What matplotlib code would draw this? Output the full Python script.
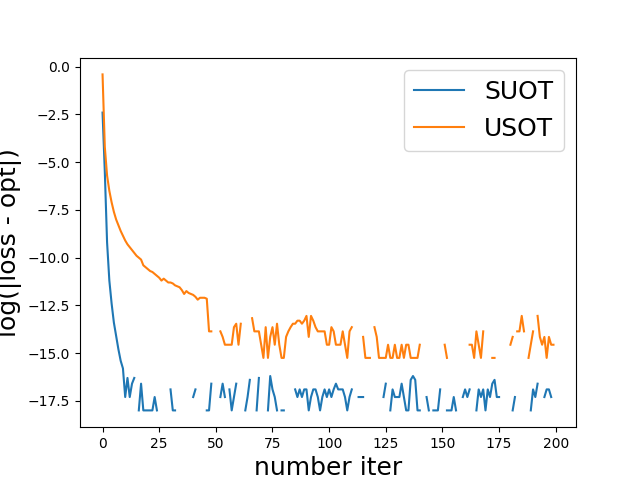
import numpy as np
import matplotlib
matplotlib.use("Agg")
import matplotlib.pyplot as plt

nan = np.nan

# log(|loss - opt|) per iteration (nan = exact zero, not drawn)
suot = [
    -2.4, -5.5, -9.2, -11.2, -12.4, -13.4, -14.1, -14.8, -15.4, -15.8,
    -17.3, -16.3, -17.3, -16.6, -16.3, nan, -18.0, -16.6, -18.0, -18.0,
    -18.0, -18.0, -18.0, -17.3, -18.0, nan, nan, nan, nan, nan,
    -16.9, -18.0, -18.0, nan, nan, nan, nan, nan, nan, nan,
    -17.3, -16.9, nan, nan, nan, nan, -18.0, -18.0, -16.6, nan,
    nan, nan, -17.3, -16.6, -17.3, nan, -16.9, -18.0, -17.3, -16.6,
    nan, nan, nan, -18.0, -17.3, -16.4, nan, nan, -18.0, -16.3,
    nan, nan, nan, -18.0, -16.2, -16.9, -17.3, -18.0, nan, -18.0,
    -18.0, nan, nan, nan, nan, -16.9, -17.3, -16.9, -17.3, -16.9,
    -16.9, -18.0, -17.3, -16.9, -16.9, -17.3, -18.0, -17.3, -16.9, -17.3,
    -16.9, -17.3, -16.9, -16.6, -16.9, -16.9, -16.9, -17.3, -18.0, -17.3,
    -16.9, nan, nan, -17.3, -17.3, -17.3, nan, nan, nan, nan,
    nan, nan, nan, nan, -17.3, -16.6, nan, -18.0, -16.9, -17.3,
    -17.3, -17.3, -16.6, -17.3, -18.0, -18.0, -16.4, -16.2, -16.4, -18.0,
    -18.0, nan, nan, -17.3, -18.0, nan, -18.0, -18.0, -18.0, -16.9,
    nan, nan, -18.0, -18.0, -18.0, -17.3, -18.0, nan, nan, -17.3,
    -16.9, -17.3, -16.9, nan, nan, -18.0, -16.9, -17.3, -16.9, -18.0,
    -16.9, -17.3, -16.6, -16.4, -17.3, -17.3, nan, nan, nan, nan,
    nan, -18.0, -17.3, nan, nan, nan, nan, nan, nan, -18.0,
    -16.9, -17.3, -16.6, nan, nan, -17.3, -16.9, -16.9, -17.3, nan,
]

usot = [
    -0.4, -4.2, -5.7, -6.5, -7.1, -7.6, -8.0, -8.3, -8.6, -8.85,
    -9.1, -9.3, -9.45, -9.6, -9.75, -9.9, -10.0, -10.1, -10.4, -10.5,
    -10.6, -10.7, -10.75, -10.85, -10.95, -11.05, -11.2, -11.1, -11.2, -11.3,
    -11.3, -11.35, -11.45, -11.5, -11.55, -11.7, -11.9, -11.75, -11.85, -11.9,
    -11.95, -12.05, -12.2, -12.1, -12.1, -12.1, -12.15, -13.86, -13.86, nan,
    nan, nan, -13.86, -14.15, -14.56, -14.56, -14.56, -14.56, -13.64, -13.46,
    -14.56, -13.46, nan, nan, nan, nan, -13.17, -13.86, -13.86, -13.86,
    -14.56, -15.25, -13.64, -15.25, -14.15, -13.64, -14.56, -13.46, -14.56, -15.25,
    -15.25, -14.15, -13.86, -13.64, -13.46, -13.46, -13.3, -13.3, -13.46, -13.3,
    -13.05, -14.15, -13.05, -13.3, -13.64, -13.86, -13.86, -13.86, -13.86, -14.56,
    -14.56, -13.64, -13.86, -14.56, -14.56, -14.56, -13.86, -14.56, -15.25, -13.86,
    -13.64, nan, nan, nan, nan, -14.15, -15.25, -15.25, -15.25, nan,
    -13.64, -14.15, -15.25, -15.25, -15.25, -15.25, -14.56, -15.25, -15.25, -14.56,
    -15.25, -15.25, -14.56, -15.25, -14.56, -14.56, -15.25, -15.25, -15.25, -15.25,
    -14.56, nan, nan, nan, nan, nan, nan, nan, nan, nan,
    nan, -14.56, -15.25, nan, nan, nan, nan, nan, nan, nan,
    nan, nan, -14.56, -14.56, -15.25, -13.86, -14.56, -15.25, -13.86, nan,
    nan, nan, -15.25, -15.25, nan, nan, nan, nan, nan, nan,
    -14.56, -14.15, nan, -13.86, -13.86, -13.05, -13.86, nan, -15.25, -14.56,
    -13.86, nan, -13.05, -14.15, -14.56, -14.15, -15.25, -14.15, -14.56, -14.56,
]

iters = np.arange(len(suot))

plt.figure(figsize=(6.4, 4.8), dpi=100)
plt.plot(iters, suot, label='SUOT')
plt.plot(iters, usot, label='USOT')
plt.xlabel('number iter', fontsize=18)
plt.ylabel('log(|loss - opt|)', fontsize=18)
plt.legend(loc='upper right', fontsize=18)
plt.savefig('out.png')
